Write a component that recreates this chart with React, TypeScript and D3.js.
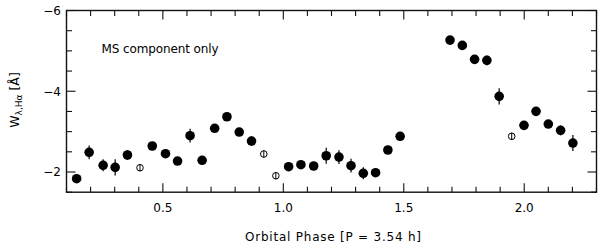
import React from 'react';
import * as d3 from 'd3';

// Filled points (MS component)
const phase = [0.142, 0.194, 0.252, 0.302, 0.353, 0.456, 0.511, 0.561, 0.613, 0.663, 0.715, 0.766, 0.817, 0.868,
  1.022, 1.073, 1.126, 1.178, 1.231, 1.281, 1.332, 1.383, 1.434, 1.485,
  1.692, 1.743, 1.794, 1.845, 1.896, 1.999, 2.049, 2.100, 2.151, 2.202];
const ew = [-1.834, -2.488, -2.166, -2.116, -2.421, -2.644, -2.453, -2.272, -2.899, -2.290, -3.082, -3.369, -2.990, -2.767,
  -2.131, -2.181, -2.149, -2.403, -2.371, -2.156, -1.968, -1.983, -2.545, -2.884,
  -5.267, -5.136, -4.790, -4.765, -3.874, -3.156, -3.502, -3.188, -3.032, -2.718];
const err = [0.08, 0.17, 0.15, 0.2, 0.12, 0.08, 0.08, 0.08, 0.17, 0.08, 0.08, 0.08, 0.08, 0.12,
  0.08, 0.08, 0.08, 0.2, 0.17, 0.17, 0.15, 0.08, 0.08, 0.08,
  0.08, 0.08, 0.08, 0.12, 0.2, 0.08, 0.08, 0.08, 0.12, 0.2];

// Open points
const openPhase = [0.405, 0.919, 0.969, 1.948];
const openEw = [-2.106, -2.446, -1.908, -2.884];
const openErr = [0.09, 0.09, 0.09, 0.09];

const xMajor = [0.5, 1.0, 1.5, 2.0];
const xLabels = ['0.5', '1.0', '1.5', '2.0'];
const yMajor = [-6, -4, -2];
const yLabels = ['\u22126', '\u22124', '\u22122'];

const W = 600, H = 247;
const L = 66.5, R = 596.5, T = 10.5, B = 192.2;

export default function App() {
  const x = d3.scaleLinear().domain([0.1, 2.3]).range([L, R]);
  const y = d3.scaleLinear().domain([-6, -1.5]).range([T, B]);
  const xMinor = x.ticks(22);
  const yMinor = y.ticks(9);
  const font = '"DejaVu Sans", "Liberation Sans", sans-serif';
  const isMajorX = (v: number) => xMajor.some(m => Math.abs(m - v) < 1e-6);
  const isMajorY = (v: number) => yMajor.some(m => Math.abs(m - v) < 1e-6);
  const minorLen = 5.5, majorLen = 9;
  const stroke = '#111';

  return (
    <svg width={W} height={H} style={{ position: 'absolute', left: 0, top: 0, background: '#fff' }}
      fontFamily={font}>
      <rect x={0} y={0} width={W} height={H} fill="#fff" />
      {/* ticks */}
      {xMinor.map((v, i) => {
        const len = isMajorX(v) ? majorLen : minorLen;
        return (
          <g key={'xt' + i} stroke={stroke} strokeWidth={1.1}>
            <line x1={x(v)} x2={x(v)} y1={B} y2={B - len} />
            <line x1={x(v)} x2={x(v)} y1={T} y2={T + len} />
          </g>
        );
      })}
      {yMinor.map((v, i) => {
        const len = isMajorY(v) ? majorLen : minorLen;
        return (
          <g key={'yt' + i} stroke={stroke} strokeWidth={1.1}>
            <line x1={L} x2={L + len} y1={y(v)} y2={y(v)} />
            <line x1={R} x2={R - len} y1={y(v)} y2={y(v)} />
          </g>
        );
      })}
      <rect x={L} y={T} width={R - L} height={B - T} fill="none" stroke={stroke} strokeWidth={1.4} />
      {/* tick labels */}
      {xMajor.map((v, i) => (
        <text key={'xl' + i} x={x(v)} y={211.5} fontSize={12} textAnchor="middle" fill="#000">{xLabels[i]}</text>
      ))}
      {yMajor.map((v, i) => (
        <text key={'yl' + i} x={61} y={y(v) + 4.3} fontSize={12} textAnchor="end" fill="#000">{yLabels[i]}</text>
      ))}
      {/* axis titles */}
      <text x={333} y={241} fontSize={12} textAnchor="middle" fill="#000" textLength={176} lengthAdjust="spacing">
        Orbital Phase [P = 3.54 h]
      </text>
      <text transform={`translate(19,100) rotate(-90)`} fontSize={12.5} textAnchor="middle" fill="#000">
        W<tspan fontSize={9} dy={2.5}>λ,Hα</tspan><tspan dy={-2.5}> [Å]</tspan>
      </text>
      <text x={101.5} y={52.5} fontSize={12} fill="#000" textLength={117} lengthAdjust="spacing">MS component only</text>
      {/* error bars */}
      {phase.map((p, i) => (
        <line key={'eb' + i} x1={x(p)} x2={x(p)} y1={y(ew[i] - err[i])} y2={y(ew[i] + err[i])}
          stroke="#000" strokeWidth={1.2} />
      ))}
      {phase.map((p, i) => (
        <circle key={'pt' + i} cx={x(p)} cy={y(ew[i])} r={4.8} fill="#000" />
      ))}
      {openPhase.map((p, i) => (
        <g key={'op' + i}>
          <circle cx={x(p)} cy={y(openEw[i])} r={3.3} fill="none" stroke="#000" strokeWidth={1} />
          <line x1={x(p)} x2={x(p)} y1={y(openEw[i] - openErr[i])} y2={y(openEw[i] + openErr[i])}
            stroke="#000" strokeWidth={1} />
        </g>
      ))}
    </svg>
  );
}
